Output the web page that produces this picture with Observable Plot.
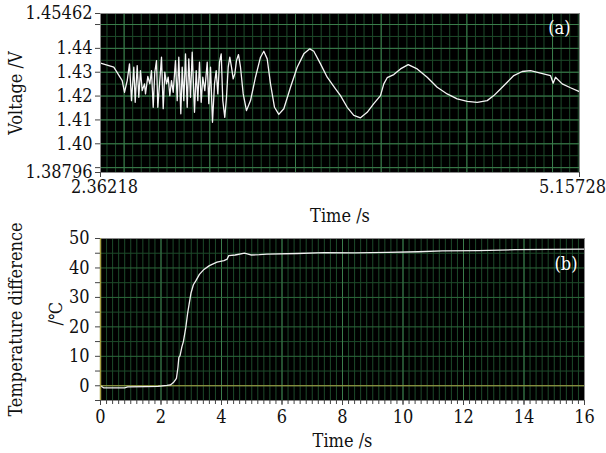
<!DOCTYPE html>
<html><head><meta charset="utf-8">
<script src="https://cdn.jsdelivr.net/npm/d3@7"></script>
<script src="https://cdn.jsdelivr.net/npm/@observablehq/plot@0.6"></script>
<style>body{margin:0;background:#fff;} #chart{width:606px;} svg{display:block;}</style>
</head><body><div id="chart"></div>
<script>
// ---- Panel (a): voltage vs time ----
const voltTime = [2.3622,2.4398,2.4888,2.5022,2.5180,2.5314,2.5431,2.5565,2.5647,2.5763,2.5857,2.5956,2.6055,2.6189,2.6248,2.6382,2.6499,2.6598,2.6697,2.6790,2.6890,2.6966,2.7082,2.7181,2.7281,2.7374,2.7473,2.7572,2.7666,2.7765,2.7864,2.7998,2.8098,2.8191,2.8308,2.8389,2.8483,2.8582,2.8681,2.8774,2.8874,2.8973,2.9107,2.9206,2.9300,2.9399,2.9498,2.9591,2.9708,2.9848,2.9941,3.0041,3.0157,3.0274,3.0373,3.0467,3.0566,3.0665,3.0758,3.0875,3.0974,3.1073,3.1167,3.1266,3.1365,3.1459,3.1558,3.1674,3.1791,3.1949,3.2141,3.2375,3.2666,3.2958,3.3151,3.3349,3.3542,3.3775,3.4026,3.4318,3.4709,3.5100,3.5485,3.5835,3.6068,3.6459,3.6850,3.7335,3.7626,3.8017,3.8402,3.8793,3.9184,3.9569,3.9960,4.0153,4.0351,4.0736,4.1127,4.1577,4.2102,4.2685,4.3269,4.3852,4.4436,4.5019,4.5603,4.6186,4.6572,4.6963,4.7354,4.7739,4.8229,4.8713,4.9297,4.9880,5.0037,5.0172,5.0563,5.1047,5.1531];
const voltValue = [1.4338,1.4321,1.4265,1.4216,1.4265,1.4335,1.4181,1.4321,1.4174,1.4328,1.4195,1.4307,1.4223,1.4251,1.4209,1.4282,1.4251,1.4307,1.4153,1.4300,1.4349,1.4153,1.4265,1.4363,1.4147,1.4300,1.4251,1.4279,1.4202,1.4265,1.4216,1.4349,1.4181,1.4363,1.4126,1.4321,1.4181,1.4377,1.4153,1.4356,1.4195,1.4384,1.4132,1.4307,1.4181,1.4342,1.4174,1.4279,1.4223,1.4342,1.4168,1.4321,1.4090,1.4251,1.4307,1.4209,1.4342,1.4377,1.4181,1.4111,1.4195,1.4321,1.4363,1.4321,1.4272,1.4293,1.4349,1.4374,1.4321,1.4209,1.4139,1.4181,1.4279,1.4363,1.4388,1.4356,1.4251,1.4153,1.4123,1.4147,1.4237,1.4321,1.4377,1.4398,1.4388,1.4335,1.4279,1.4230,1.4202,1.4153,1.4119,1.4109,1.4132,1.4168,1.4202,1.4251,1.4277,1.4290,1.4314,1.4332,1.4314,1.4279,1.4237,1.4209,1.4188,1.4178,1.4174,1.4181,1.4202,1.4230,1.4258,1.4286,1.4303,1.4307,1.4296,1.4286,1.4254,1.4279,1.4251,1.4235,1.4220];
const voltTicks = [1.45462, 1.44, 1.43, 1.42, 1.41, 1.40, 1.38796];
const voltTickLabels = ["1.45462", "1.44", "1.43", "1.42", "1.41", "1.40", "1.38796"];
const voltMinorTicks = [1.45, 1.39];
const timeTicksA = [2.36218, 5.15728];
const timeTickLabelsA = ["2.36218", "5.15728"];

// ---- Panel (b): temperature difference vs time ----
const tempTime = [0,0.1,0.8,0.9,1.5,1.9,2.2,2.31,2.41,2.51,2.56,2.59,2.63,2.69,2.74,2.82,2.88,2.93,2.99,3.07,3.15,3.27,3.42,3.6,3.85,4.08,4.19,4.24,4.45,4.76,4.97,5.25,5.5,6.5,7.4,8.4,9.5,10.5,11.3,12.5,13.7,14.8,16];
const tempValue = [0,-0.7,-0.7,-0.4,-0.3,-0.2,0.1,0.3,1.1,2.5,6.2,9.6,10.2,13.2,15.0,19.8,24.6,27.7,31.4,34.3,35.6,37.8,39.5,40.8,42.0,42.5,43.0,44.2,44.4,45.0,44.4,44.5,44.7,44.9,45.2,45.1,45.3,45.5,45.8,45.9,46.2,46.3,46.4];
const tempTicks = [0, 10, 20, 30, 40, 50];
const tempMinorTicks = [-5, 5, 15, 25, 35, 45];
const timeTicksB = [0, 2, 4, 6, 8, 10, 12, 14, 16];

const font = "'DejaVu Serif Condensed', 'DejaVu Serif', serif";
const fs = 18;
const minorGrid = {stroke: "#1d4a2a", strokeOpacity: 1, strokeWidth: 1};
const majorGrid = {stroke: "#3b7d4c", strokeOpacity: 1, strokeWidth: 1};
const tickStroke = "#444";

const voltData = voltTime.map((t, i) => ({t, v: voltValue[i]}));
const tempData = tempTime.map((t, i) => ({t, T: tempValue[i]}));

const plotA = Plot.plot({
  width: 606, height: 225,
  marginLeft: 100, marginRight: 27, marginTop: 13, marginBottom: 53,
  style: {fontFamily: font, fontSize: fs + "px", color: "#111", background: "#fff", overflow: "visible"},
  x: {domain: [2.36218, 5.15728]},
  y: {domain: [1.38796, 1.45462]},
  marks: [
    Plot.frame({fill: "#000"}),
    Plot.gridX(d3.range(2.40, 5.151, 0.05), minorGrid),
    Plot.gridY(d3.range(1.39, 1.4546, 0.005), minorGrid),
    Plot.gridX(d3.range(2.5, 5.01, 0.5), majorGrid),
    Plot.gridY(d3.range(1.39, 1.4501, 0.01), majorGrid),
    Plot.line(voltData, {x: "t", y: "v", stroke: "#f4f4f4", strokeWidth: 1.3}),
    Plot.frame({stroke: "#8a8a8a"}),
    Plot.axisY(voltMinorTicks, {tickSize: 5, tickFormat: () => "", stroke: tickStroke, label: null}),
    Plot.axisY(voltTicks, {tickSize: 5, tickPadding: 3, stroke: tickStroke, fontSize: fs,
      tickFormat: d => voltTickLabels[voltTicks.indexOf(d)],
      label: "Voltage /V", labelAnchor: "center", labelArrow: "none", labelOffset: 91}),
    Plot.axisX(timeTicksA, {tickSize: 5, tickFormat: () => "", stroke: tickStroke, fontSize: fs,
      label: "Time /s", labelAnchor: "center", labelArrow: "none", labelOffset: 49}),
    Plot.text([timeTicksA[0]], {x: d => d, text: d => timeTickLabelsA[0], frameAnchor: "bottom", lineAnchor: "top", dy: 8, dx: 4, fontSize: fs}),
    Plot.text([timeTicksA[1]], {x: d => d, text: d => timeTickLabelsA[1], frameAnchor: "bottom", lineAnchor: "top", dy: 8, dx: -7, fontSize: fs}),
    Plot.text(["(a)"], {text: d => d, frameAnchor: "top-right", dx: -9, dy: 8, fill: "#fff", fontSize: fs})
  ]
});

const plotB = Plot.plot({
  width: 606, height: 228,
  marginLeft: 100, marginRight: 22, marginTop: 13, marginBottom: 53,
  style: {fontFamily: font, fontSize: fs + "px", color: "#111", background: "#fff", overflow: "visible"},
  x: {domain: [0, 16]},
  y: {domain: [-5, 50]},
  marks: [
    Plot.frame({fill: "#000"}),
    Plot.gridX(d3.range(0.2, 16, 0.2), minorGrid),
    Plot.gridY(tempMinorTicks, minorGrid),
    Plot.gridX(timeTicksB, majorGrid),
    Plot.gridY(tempTicks, {...majorGrid, stroke: "#2c6a3c"}),
    Plot.ruleY([0], {stroke: "#a6a043", strokeWidth: 1.2}),
    Plot.line(tempData, {x: "t", y: "T", stroke: "#f0f0f0", strokeWidth: 1.3}),
    Plot.frame({stroke: "#8a8a8a"}),
    Plot.ruleX([0], {stroke: "#a6a043", strokeWidth: 1.5}),
    Plot.axisX(d3.range(0, 16.01, 0.2), {tickSize: 4, tickFormat: () => "", stroke: tickStroke, label: null}),
    Plot.axisX(timeTicksB, {tickSize: 5, tickPadding: 5, stroke: tickStroke, fontSize: fs,
      label: "Time /s", labelAnchor: "center", labelArrow: "none", labelOffset: 46}),
    Plot.axisY(tempMinorTicks, {tickSize: 5, tickFormat: () => "", stroke: tickStroke, label: null}),
    Plot.axisY(tempTicks, {tickSize: 5, tickPadding: 6, stroke: tickStroke, fontSize: fs,
      label: "Temperature difference", labelAnchor: "center", labelArrow: "none", labelOffset: 91}),
    Plot.text(["/℃"], {text: d => d, frameAnchor: "left", rotate: -90, dx: -44, dy: 6, fontSize: fs}),
    Plot.text(["(b)"], {text: d => d, frameAnchor: "top-right", dx: -7, dy: 19, fill: "#fff", fontSize: fs})
  ]
});

const root = document.getElementById("chart");
root.appendChild(plotA);
root.appendChild(plotB);
</script>
</body></html>
